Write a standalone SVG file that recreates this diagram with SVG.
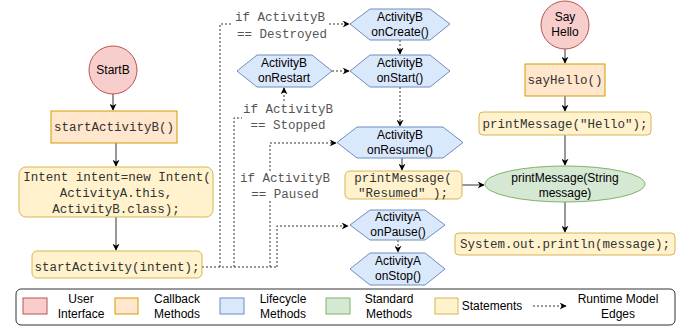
<svg xmlns="http://www.w3.org/2000/svg" width="690" height="329" viewBox="0 0 690 329">
<defs>
<marker id="ah" viewBox="0 0 10 10" refX="9" refY="5" markerWidth="7" markerHeight="7" orient="auto" markerUnits="userSpaceOnUse">
<path d="M0,0 L10,5 L0,10 L3,5 Z" fill="#000"/>
</marker>
<style>
.ui{fill:#f8cecc;stroke:#b85450;stroke-width:1}
.cb{fill:#ffe6cc;stroke:#d79b00;stroke-width:1}
.lc{fill:#dae8fc;stroke:#6c8ebf;stroke-width:1}
.sm{fill:#d5e8d4;stroke:#82b366;stroke-width:1}
.st{fill:#fff2cc;stroke:#d6b656;stroke-width:1}
.t{font-family:"Liberation Sans",Arial,sans-serif;font-size:12px;fill:#000;text-anchor:middle}
.c{font-family:"Liberation Mono","Courier New",monospace;font-size:12.5px;fill:#333;text-anchor:middle}
.lb{font-family:"Liberation Mono","Courier New",monospace;font-size:12.5px;fill:#555;text-anchor:middle}
.e{fill:none;stroke:#333;stroke-width:1}
.d{fill:none;stroke:#333;stroke-width:1;stroke-dasharray:2 2}
</style>
</defs>
<rect width="690" height="329" fill="#fff"/>

<g id="connectors">
<line class="e" x1="113" y1="94" x2="113" y2="110" marker-end="url(#ah)"/>
<line class="e" x1="116" y1="143" x2="116" y2="166" marker-end="url(#ah)"/>
<line class="e" x1="116" y1="217" x2="116" y2="250" marker-end="url(#ah)"/>
<path class="d" d="M202,267 H277"/>
<path class="d" d="M220,267 V24 H349" marker-end="url(#ah)"/>
<path class="d" d="M234,267 V118 H284 V88" marker-end="url(#ah)"/>
<path class="d" d="M270,267 V143 H336" marker-end="url(#ah)"/>
<path class="d" d="M277,267 V226 H348" marker-end="url(#ah)"/>
<line class="d" x1="332" y1="71" x2="349" y2="71" marker-end="url(#ah)"/>
<line class="d" x1="400" y1="40" x2="400" y2="54" marker-end="url(#ah)"/>
<line class="d" x1="400" y1="87" x2="400" y2="126" marker-end="url(#ah)"/>
<line class="e" x1="402" y1="158" x2="402" y2="170" marker-end="url(#ah)"/>
<line class="d" x1="398" y1="240" x2="398" y2="252" marker-end="url(#ah)"/>
<line class="e" x1="462" y1="185" x2="484" y2="185" marker-end="url(#ah)"/>
<line class="e" x1="565" y1="49" x2="565" y2="63" marker-end="url(#ah)"/>
<line class="e" x1="565" y1="96" x2="565" y2="111" marker-end="url(#ah)"/>
<line class="e" x1="565" y1="135" x2="565" y2="165" marker-end="url(#ah)"/>
<line class="e" x1="565" y1="202" x2="565" y2="232" marker-end="url(#ah)"/>
<g id="label-destroyed">
<rect x="232" y="10" width="96" height="30" fill="#fff"/>
<text class="lb" x="280" y="21">if ActivityB</text>
<text class="lb" x="282" y="38">== Destroyed</text>
</g>
<g id="label-stopped">
<rect x="242" y="103" width="92" height="28" fill="#fff"/>
<text class="lb" x="288" y="113">if ActivityB</text>
<text class="lb" x="288" y="129">== Stopped</text>
</g>
<g id="label-paused">
<rect x="239" y="172" width="92" height="28" fill="#fff"/>
<text class="lb" x="285" y="182">if ActivityB</text>
<text class="lb" x="285" y="198">== Paused</text>
</g>
</g>

<g id="startB">
<circle class="ui" cx="113" cy="70" r="24"/>
<text class="t" x="113" y="74">StartB</text>
</g>
<g id="startActivityB">
<rect class="cb" x="51" y="111" width="126" height="32"/>
<text class="c" x="114" y="131">startActivityB()</text>
</g>
<g id="intent">
<rect class="st" x="19" y="167" width="194" height="50" rx="7"/>
<text class="c" x="117" y="181">Intent intent=new Intent(</text>
<text class="c" x="116" y="197">ActivityA.this,</text>
<text class="c" x="116" y="213">ActivityB.class);</text>
</g>
<g id="startActivity">
<rect class="st" x="32" y="251" width="170" height="27" rx="5"/>
<text class="c" x="117" y="271">startActivity(intent);</text>
</g>

<g id="onCreate">
<polygon class="lc" points="350,24 370,9 430,9 450,24 430,40 370,40"/>
<text class="t" x="400" y="21">ActivityB</text>
<text class="t" x="400" y="36">onCreate()</text>
</g>
<g id="onRestart">
<polygon class="lc" points="237,71 257,55 312,55 332,71 312,87 257,87"/>
<text class="t" x="284" y="67">ActivityB</text>
<text class="t" x="284" y="82">onRestart</text>
</g>
<g id="onStart">
<polygon class="lc" points="350,71 370,55 430,55 450,71 430,87 370,87"/>
<text class="t" x="400" y="67">ActivityB</text>
<text class="t" x="400" y="82">onStart()</text>
</g>
<g id="onResume">
<polygon class="lc" points="337,142.5 357,127 443,127 463,142.5 443,158 357,158"/>
<text class="t" x="400" y="139">ActivityB</text>
<text class="t" x="400" y="154">onResume()</text>
</g>
<g id="printResumed">
<rect class="st" x="345" y="171" width="117" height="28" rx="5"/>
<text class="c" x="403" y="182">printMessage(</text>
<text class="c" x="403" y="197">"Resumed" );</text>
</g>
<g id="onPause">
<polygon class="lc" points="350,225 370,210 425,210 445,225 425,240 370,240"/>
<text class="t" x="398" y="221">ActivityA</text>
<text class="t" x="398" y="236">onPause()</text>
</g>
<g id="onStop">
<polygon class="lc" points="350,269 370,253 425,253 445,269 425,285 370,285"/>
<text class="t" x="398" y="265">ActivityA</text>
<text class="t" x="398" y="280">onStop()</text>
</g>

<g id="sayHelloCircle">
<circle class="ui" cx="565" cy="25" r="24"/>
<text class="t" x="565" y="21">Say</text>
<text class="t" x="565" y="36">Hello</text>
</g>
<g id="sayHello">
<rect class="cb" x="525" y="64" width="80" height="32"/>
<text class="c" x="565" y="84">sayHello()</text>
</g>
<g id="printHello">
<rect class="st" x="479" y="112" width="172" height="23" rx="4"/>
<text class="c" x="565" y="128">printMessage("Hello");</text>
</g>
<g id="printMessageMethod">
<ellipse class="sm" cx="565" cy="184" rx="80" ry="18"/>
<text class="t" x="565" y="182">printMessage(String</text>
<text class="t" x="565" y="197">message)</text>
</g>
<g id="println">
<rect class="st" x="455" y="233" width="220" height="22" rx="4"/>
<text class="c" x="565" y="248">System.out.println(message);</text>
</g>

<g id="legend">
<rect x="16" y="289" width="659" height="36" rx="5" fill="#fff" stroke="#333" stroke-width="1"/>
<rect class="ui" x="23" y="298" width="24" height="16"/>
<text class="t" x="81" y="303">User</text>
<text class="t" x="81" y="318">Interface</text>
<rect class="cb" x="115" y="298" width="23" height="16"/>
<text class="t" x="177" y="303">Callback</text>
<text class="t" x="177" y="318">Methods</text>
<rect class="lc" x="220" y="298" width="24" height="16"/>
<text class="t" x="283" y="303">Lifecycle</text>
<text class="t" x="283" y="318">Methods</text>
<rect class="sm" x="326" y="298" width="24" height="16"/>
<text class="t" x="389" y="303">Standard</text>
<text class="t" x="389" y="318">Methods</text>
<rect class="st" x="435" y="298" width="23" height="16"/>
<text class="t" x="492" y="310">Statements</text>
<line class="d" x1="533" y1="306" x2="566" y2="306" marker-end="url(#ah)"/>
<text class="t" x="618" y="303">Runtime Model</text>
<text class="t" x="618" y="318">Edges</text>
</g>
</svg>
